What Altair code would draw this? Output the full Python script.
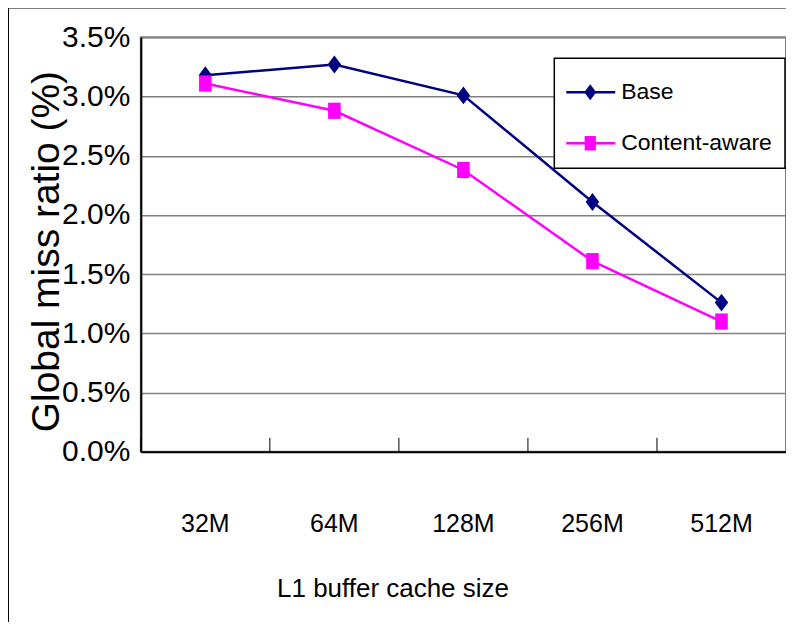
import altair as alt
import pandas as pd

sizes = ["32M", "64M", "128M", "256M", "512M"]
series = ["Base", "Content-aware"]
base_vals = [3.18, 3.27, 3.01, 2.11, 1.26]
ca_vals = [3.11, 2.88, 2.38, 1.61, 1.10]
y_ticks = [0.0, 0.005, 0.01, 0.015, 0.02, 0.025, 0.03, 0.035]
colors = ["#000080", "#FF00FF"]
shapes = ["M0,-1L0.75,0L0,1L-0.75,0Z", "M-0.7,-0.9L0.7,-0.9L0.7,0.9L-0.7,0.9Z"]

rows = []
for s, vals in zip(series, [base_vals, ca_vals]):
    for c, v in zip(sizes, vals):
        rows.append({"size": c, "series": s, "ratio": v / 100.0})
df = pd.DataFrame(rows)
legend_df = pd.DataFrame({"series": series})
one = pd.DataFrame({"a": [0]})
tick_df = pd.DataFrame({"size": sizes})

FONT = "Liberation Sans, Arial, sans-serif"
W, H = 646, 415

color_scale = alt.Scale(domain=series, range=colors)
shape_scale = alt.Scale(domain=series, range=shapes)

x_enc = alt.X(
    "size:N",
    sort=sizes,
    scale=alt.Scale(paddingInner=0, paddingOuter=0),
    axis=alt.Axis(
        title="L1 buffer cache size",
        labelAngle=0,
        ticks=False,
        labelPadding=80,
        labelBaseline="alphabetic",
        labelFontSize=25,
        labelFont=FONT,
        labelColor="black",
        titleFont=FONT,
        titleFontSize=26,
        titleFontWeight="normal",
        titleColor="black",
        titleX=252,
        titleY=145,
        titleBaseline="alphabetic",
        domainColor="black",
        domainWidth=2,
        grid=False,
    ),
)
y_enc = alt.Y(
    "ratio:Q",
    scale=alt.Scale(domain=[0, 0.035], nice=False),
    axis=alt.Axis(
        title="Global miss ratio (%)",
        values=y_ticks,
        format=".1%",
        ticks=False,
        labelPadding=11,
        labelFontSize=30,
        labelFont=FONT,
        labelColor="black",
        titleFont=FONT,
        titleFontSize=39,
        titleFontWeight="normal",
        titleColor="black",
        titleX=-82,
        titleY=214,
        titleAngle=-90,
        titleBaseline="alphabetic",
        domainColor="black",
        domainWidth=2,
        grid=True,
        gridColor="#808080",
        gridWidth=1.5,
    ),
)

lines = alt.Chart(df).mark_line(strokeWidth=2.5).encode(
    x=x_enc,
    y=y_enc,
    color=alt.Color("series:N", scale=color_scale, legend=None),
    detail="series:N",
)
points = alt.Chart(df).mark_point(filled=True, opacity=1, size=324).encode(
    x=alt.X("size:N", sort=sizes),
    y="ratio:Q",
    color=alt.Color("series:N", scale=color_scale, legend=None),
    shape=alt.Shape("series:N", scale=shape_scale, legend=None),
)
inner_ticks = alt.Chart(tick_df).mark_rule(color="black", strokeWidth=1).encode(
    x=alt.X("size:N", sort=sizes, bandPosition=0),
    y=alt.value(H - 14),
    y2=alt.value(H),
)

frame_left = alt.Chart(one).mark_rule(color="black", strokeWidth=2).encode(
    x=alt.value(-133), y=alt.value(-30), y2=alt.value(600)
)
frame_top = alt.Chart(one).mark_rule(color="black", strokeWidth=2).encode(
    x=alt.value(-134), x2=alt.value(700), y=alt.value(-30)
)

legend_box = alt.Chart(one).mark_rect(fill="white", stroke="black", strokeWidth=1.5).encode(
    x=alt.value(414), x2=alt.value(645), y=alt.value(21), y2=alt.value(131)
)
legend_layers = []
legend_y = [55, 106]
for s, ly in zip(series, legend_y):
    sub = alt.Chart(legend_df).transform_filter(alt.datum.series == s)
    legend_layers.append(
        sub.mark_rule(strokeWidth=2.5).encode(
            x=alt.value(426), x2=alt.value(475), y=alt.value(ly),
            color=alt.Color("series:N", scale=color_scale, legend=None),
        )
    )
    legend_layers.append(
        sub.mark_point(filled=True, opacity=1, size=256).encode(
            x=alt.value(450), y=alt.value(ly),
            color=alt.Color("series:N", scale=color_scale, legend=None),
            shape=alt.Shape("series:N", scale=shape_scale, legend=None),
        )
    )
    legend_layers.append(
        sub.mark_text(align="left", baseline="middle", font=FONT, fontSize=23, color="black").encode(
            x=alt.value(481), y=alt.value(ly), text="series:N"
        )
    )

chart = alt.layer(
    frame_left, frame_top, lines, points, inner_ticks, legend_box, *legend_layers
).properties(
    width=W,
    height=H,
    padding={"left": 133, "top": 29, "right": 0, "bottom": 170},
    autosize=alt.AutoSizeParams(type="none"),
    background="white",
).configure_view(stroke="#808080", strokeWidth=2)

chart.save("out.html", embed_options={"renderer": "svg", "actions": False})
